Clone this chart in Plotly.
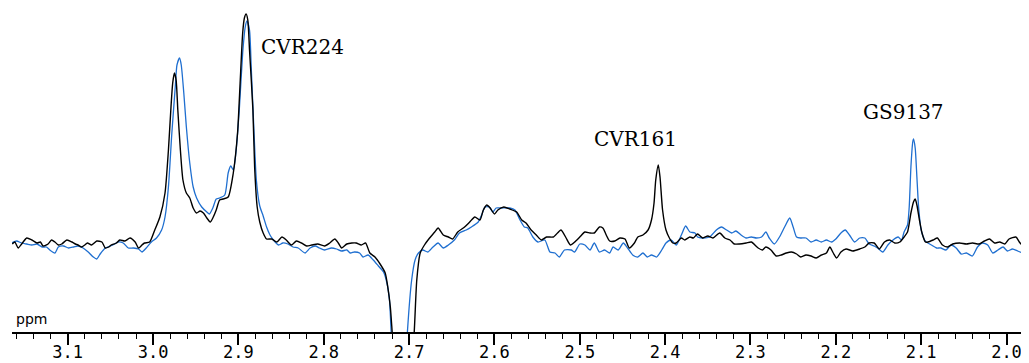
import plotly.graph_objects as go

# 1H NMR overlay, two spectra (black / blue), chemical shift in ppm
black_ppm = [
    3.165, 3.162, 3.158, 3.154, 3.148, 3.142, 3.136, 3.132, 3.129, 3.123,
    3.119, 3.115, 3.111, 3.107, 3.101, 3.095, 3.091, 3.088, 3.084, 3.080,
    3.077, 3.072, 3.066, 3.060, 3.056, 3.052, 3.049, 3.043, 3.039, 3.033,
    3.027, 3.021, 3.017, 3.013, 3.010, 3.004, 2.998, 2.992, 2.986, 2.982,
    2.979, 2.977, 2.975, 2.973, 2.971, 2.968, 2.965, 2.961, 2.957, 2.953,
    2.949, 2.945, 2.941, 2.937, 2.933, 2.930, 2.926, 2.922, 2.918, 2.912,
    2.906, 2.901, 2.898, 2.895, 2.893, 2.891, 2.889, 2.887, 2.883, 2.881,
    2.878, 2.875, 2.871, 2.867, 2.861, 2.855, 2.849, 2.844, 2.838, 2.832,
    2.826, 2.820, 2.814, 2.807, 2.799, 2.793, 2.787, 2.783, 2.779, 2.773,
    2.767, 2.762, 2.756, 2.751, 2.746, 2.740, 2.734, 2.728, 2.725, 2.722,
    2.720, 2.707, 2.694, 2.691, 2.687, 2.682, 2.676, 2.670, 2.666, 2.660,
    2.654, 2.649, 2.643, 2.635, 2.629, 2.623, 2.617, 2.613, 2.609, 2.605,
    2.600, 2.596, 2.589, 2.582, 2.574, 2.568, 2.563, 2.557, 2.551, 2.545,
    2.539, 2.531, 2.522, 2.516, 2.511, 2.506, 2.500, 2.494, 2.488, 2.483,
    2.477, 2.473, 2.469, 2.465, 2.459, 2.453, 2.447, 2.442, 2.436, 2.432,
    2.426, 2.420, 2.416, 2.413, 2.411, 2.408, 2.406, 2.403, 2.399, 2.395,
    2.391, 2.387, 2.381, 2.377, 2.371, 2.367, 2.362, 2.356, 2.350, 2.344,
    2.336, 2.330, 2.324, 2.319, 2.313, 2.305, 2.299, 2.291, 2.286, 2.282,
    2.276, 2.270, 2.264, 2.258, 2.252, 2.246, 2.241, 2.235, 2.229, 2.223,
    2.217, 2.211, 2.207, 2.203, 2.199, 2.194, 2.188, 2.180, 2.172, 2.166,
    2.161, 2.155, 2.149, 2.143, 2.137, 2.131, 2.125, 2.120, 2.116, 2.112,
    2.109, 2.107, 2.105, 2.102, 2.099, 2.095, 2.092, 2.086, 2.081, 2.075,
    2.069, 2.063, 2.055, 2.047, 2.040, 2.032, 2.026, 2.020, 2.014, 2.008,
    2.002, 1.997, 1.989, 1.985, 1.981,
]
black_int = [
    -1, 1, -5, -1, 5, 3, 0, 1, -3, -1,
    3, 1, -2, -1, 3, 1, -1, -2, -4, -2,
    0, -2, 2, 1, -5, -4, -2, 0, 3, 2,
    5, 1, -5, -2, 0, 1, 13, 26, 50, 93,
    136, 160, 170, 163, 133, 93, 63, 50, 45, 35,
    30, 32, 30, 25, 21, 25, 33, 43, 44, 46,
    70, 110, 160, 210, 225, 229, 223, 193, 133, 76,
    36, 21, 10, 4, 4, 1, 6, 3, -2, 2,
    0, -3, -2, -1, -3, 0, 4, 0, -5, -1,
    0, 0, -2, 0, -10, -14, -21, -30, -44, -64,
    -87, -257, -89, -37, -10, -2, 5, 11, 15, 8,
    6, 4, 11, 16, 21, 26, 23, 33, 38, 35,
    29, 33, 36, 34, 31, 23, 20, 13, 8, 3,
    6, 6, 13, 5, -2, 1, 6, 11, 10, 10,
    16, 15, 8, 2, 2, 5, 4, -5, 0, 6,
    8, 13, 23, 40, 63, 78, 66, 33, 13, 5,
    0, 0, 5, 3, 6, 5, 9, 5, 7, 5,
    10, 5, 3, -1, -1, 0, 1, -5, -7, -4,
    -7, -13, -12, -10, -9, -11, -14, -12, -13, -15,
    -12, -10, -4, -10, -15, -9, -6, -8, -6, -4,
    0, 0, -6, 1, 3, 0, 1, 6, 11, 30,
    41, 44, 38, 23, 10, 1, 1, 3, 5, -2,
    -4, -1, 0, -1, 0, -1, 2, 4, 0, 1,
    -1, 4, 6, 1, -3,
]

blue_ppm = [
    3.166, 3.160, 3.154, 3.148, 3.142, 3.136, 3.130, 3.125, 3.121, 3.115,
    3.111, 3.105, 3.099, 3.093, 3.088, 3.082, 3.076, 3.070, 3.066, 3.062,
    3.056, 3.050, 3.045, 3.041, 3.035, 3.029, 3.023, 3.017, 3.013, 3.008,
    3.002, 2.996, 2.990, 2.986, 2.982, 2.978, 2.974, 2.972, 2.969, 2.967,
    2.964, 2.961, 2.957, 2.953, 2.949, 2.943, 2.937, 2.934, 2.930, 2.926,
    2.922, 2.916, 2.912, 2.909, 2.906, 2.903, 2.899, 2.895, 2.892, 2.890,
    2.887, 2.885, 2.882, 2.879, 2.875, 2.871, 2.867, 2.863, 2.859, 2.853,
    2.848, 2.842, 2.836, 2.830, 2.822, 2.816, 2.810, 2.805, 2.799, 2.791,
    2.785, 2.779, 2.773, 2.769, 2.764, 2.758, 2.754, 2.748, 2.742, 2.736,
    2.730, 2.726, 2.723, 2.721, 2.711, 2.702, 2.697, 2.693, 2.689, 2.684,
    2.678, 2.672, 2.666, 2.660, 2.654, 2.647, 2.641, 2.633, 2.627, 2.619,
    2.615, 2.611, 2.606, 2.602, 2.598, 2.592, 2.582, 2.576, 2.570, 2.565,
    2.561, 2.555, 2.549, 2.541, 2.535, 2.529, 2.524, 2.518, 2.510, 2.506,
    2.500, 2.494, 2.488, 2.483, 2.477, 2.471, 2.465, 2.461, 2.455, 2.449,
    2.444, 2.438, 2.432, 2.426, 2.421, 2.416, 2.410, 2.404, 2.399, 2.393,
    2.387, 2.381, 2.376, 2.371, 2.365, 2.362, 2.356, 2.348, 2.340, 2.334,
    2.328, 2.322, 2.317, 2.311, 2.305, 2.299, 2.293, 2.287, 2.282, 2.278,
    2.272, 2.266, 2.260, 2.254, 2.250, 2.246, 2.241, 2.235, 2.229, 2.223,
    2.217, 2.211, 2.205, 2.200, 2.194, 2.189, 2.184, 2.178, 2.172, 2.166,
    2.161, 2.155, 2.151, 2.145, 2.139, 2.133, 2.127, 2.123, 2.120, 2.116,
    2.114, 2.112, 2.110, 2.109, 2.107, 2.105, 2.103, 2.100, 2.096, 2.094,
    2.088, 2.082, 2.077, 2.071, 2.065, 2.059, 2.053, 2.047, 2.040, 2.034,
    2.028, 2.022, 2.016, 2.010, 2.004, 1.999, 1.993, 1.987, 1.981,
]
blue_int = [
    0, 2, 0, -1, -2, -1, -4, -4, -7, -10,
    -4, -3, -5, -4, -3, -5, -9, -14, -16, -11,
    -5, -3, -1, 1, 0, -5, -5, -6, -9, -5,
    1, 5, 13, 26, 56, 110, 156, 178, 185, 178,
    150, 116, 80, 56, 45, 36, 31, 29, 35, 44,
    45, 48, 70, 77, 73, 90, 133, 190, 216, 222,
    213, 176, 116, 63, 37, 27, 16, 8, 3, -2,
    0, -1, -4, -5, -10, -5, -3, -5, -7, -5,
    -6, -8, -7, -10, -9, -10, -14, -12, -17, -23,
    -29, -40, -57, -89, -237, -89, -37, -17, -10, -7,
    -9, -4, 0, -5, -2, 3, 10, 13, 16, 21,
    28, 36, 36, 31, 35, 35, 35, 33, 23, 16,
    15, 6, 1, 3, -9, -10, -14, -7, -7, -9,
    -1, -2, -7, 0, -9, -7, -10, -4, -7, 0,
    -5, -12, -14, -10, -14, -12, -14, -7, 0, 3,
    -2, 8, 17, 11, 10, 6, 5, 6, 13, 16,
    13, 10, 12, 8, 5, 6, 5, 6, 11, 5,
    -1, 6, 16, 25, 16, 6, 5, 5, 1, 3,
    1, 3, 1, 4, 10, 13, 8, 1, 5, 5,
    -1, -3, -5, -9, -2, 3, 6, 3, 11, 18,
    36, 76, 100, 104, 95, 66, 36, 13, 3, 1,
    -2, -5, -5, -7, -2, -5, -11, -10, -13, -4,
    0, -2, -10, -7, -4, -8, -6, -8, -10,
]

peak_labels = ["CVR224", "CVR161", "GS9137"]
peak_ppm = [2.8245, 2.4345, 2.1207]
peak_height = [196, 104, 131]

fig = go.Figure()

fig.add_trace(go.Scatter(
    x=blue_ppm, y=blue_int, mode="lines",
    line=dict(color="#1f6fd0", width=1.3, shape="spline", smoothing=0.6),
    hoverinfo="skip",
))
fig.add_trace(go.Scatter(
    x=black_ppm, y=black_int, mode="lines",
    line=dict(color="#000000", width=1.4, shape="spline", smoothing=0.6),
    hoverinfo="skip",
))

for label, px, py in zip(peak_labels, peak_ppm, peak_height):
    fig.add_annotation(
        x=px, y=py, text=label, showarrow=False,
        font=dict(family="DejaVu Serif", size=20, color="#000000"),
    )

fig.add_annotation(
    x=0, xref="paper", xanchor="left", xshift=2,
    y=0, yref="paper", yanchor="bottom", yshift=3,
    text="ppm", showarrow=False,
    font=dict(family="DejaVu Sans", size=14, color="#000000"),
)

# the page body keeps its default 8px margin, so the figure is sized to
# end exactly at the window edge
fig.update_layout(
    width=1021,
    height=355,
    margin=dict(l=4, r=5, t=0, b=31),
    plot_bgcolor="white",
    paper_bgcolor="white",
    showlegend=False,
)

fig.update_xaxes(
    range=[3.1653, 1.9795],
    automargin=False,
    showline=True, linecolor="#000000", linewidth=1.5,
    showgrid=False, zeroline=False,
    ticks="outside", ticklen=11, tickwidth=1.5, tickcolor="#000000",
    tick0=0, dtick=0.1, tickformat=".1f",
    ticklabelstandoff=-7,
    tickfont=dict(family="DejaVu Sans Mono", size=17, color="#000000"),
    minor=dict(ticks="outside", ticklen=5, tickwidth=1.2,
               tickcolor="#000000", dtick=0.02, showgrid=False),
)

fig.update_yaxes(
    range=[-89, 235],
    visible=False,
)

fig.write_html("out.html")
